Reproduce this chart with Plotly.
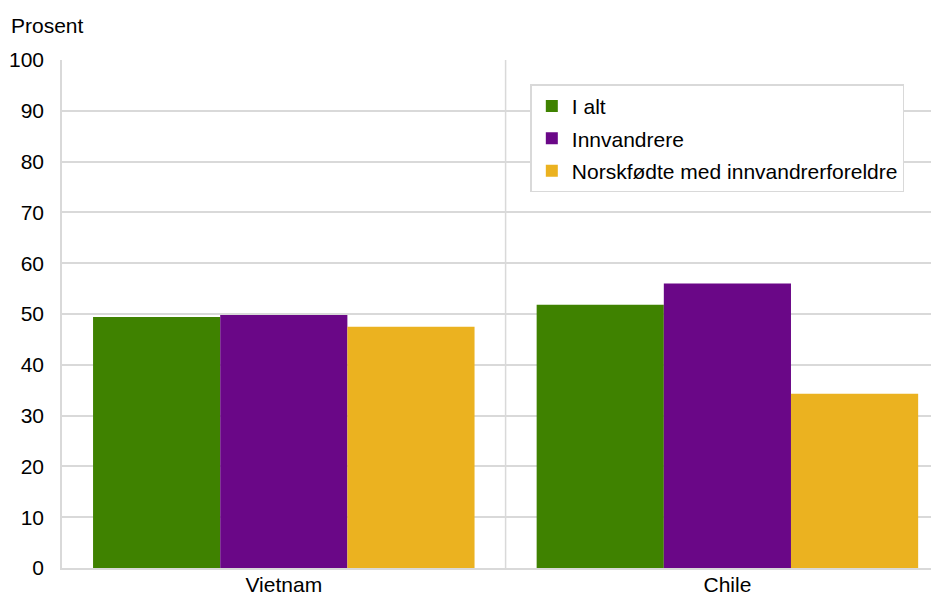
import plotly.graph_objects as go

categories = ["Vietnam", "Chile"]
series_names = ["I alt", "Innvandrere", "Norskfødte med innvandrerforeldre"]
i_alt = [49.4, 51.8]
innvandrere = [49.8, 56.0]
norskfodte = [47.5, 34.3]
y_ticks = [0, 10, 20, 30, 40, 50, 60, 70, 80, 90, 100]

colors = ["#3f8200", "#6a0787", "#ebb220"]
series_values = [i_alt, innvandrere, norskfodte]

fig = go.Figure()

for name, vals, col in zip(series_names, series_values, colors):
    fig.add_trace(
        go.Bar(
            x=[0, 1],
            y=vals,
            name=name,
            legendgroup=name,
            marker=dict(color=col, line=dict(width=0)),
        )
    )

# category separator
fig.add_shape(
    type="line", xref="x", yref="paper", x0=0.5, x1=0.5, y0=0, y1=1,
    line=dict(color="#d9d9d9", width=1.5), layer="below",
)

# page body has an 8px margin, so the figure is a bit smaller than the window
fig.update_layout(
    width=931,
    height=589,
    margin={"l": 54, "r": 0, "b": 29, "t": 52},
    paper_bgcolor="white",
    plot_bgcolor="white",
    font=dict(family="Liberation Sans, Arial, sans-serif", size=21, color="black"),
    barmode="group",
    bargap=0.14,
    bargroupgap=0,
    showlegend=True,
    legend=dict(
        x=0.534, y=0.952, xanchor="left", yanchor="top",
        bgcolor="white", bordercolor="#d9d9d9", borderwidth=1.5,
        font=dict(size=21),
        traceorder="grouped", tracegroupgap=2,
        itemwidth=30,
    ),
    annotations=[
        dict(text="Prosent", xref="paper", yref="paper", x=-0.061, y=1.067,
             xanchor="left", yanchor="middle", showarrow=False,
             font=dict(size=21)),
    ],
)

fig.update_xaxes(
    tickmode="array",
    tickvals=[0, 1],
    ticktext=categories,
    range=[-0.5, 1.477],
    showgrid=False,
    showline=True,
    linecolor="#d9d9d9",
    linewidth=1.5,
    ticks="",
    automargin=False,
    ticklabelstandoff=-3,
)
fig.update_yaxes(
    range=[0, 100],
    tickvals=y_ticks,
    showgrid=True,
    gridcolor="#d9d9d9",
    gridwidth=1.5,
    showline=True,
    linecolor="#d9d9d9",
    linewidth=1.5,
    zeroline=False,
    ticks="",
    ticklabelstandoff=12,
    automargin=False,
)

fig.write_html("out.html")
